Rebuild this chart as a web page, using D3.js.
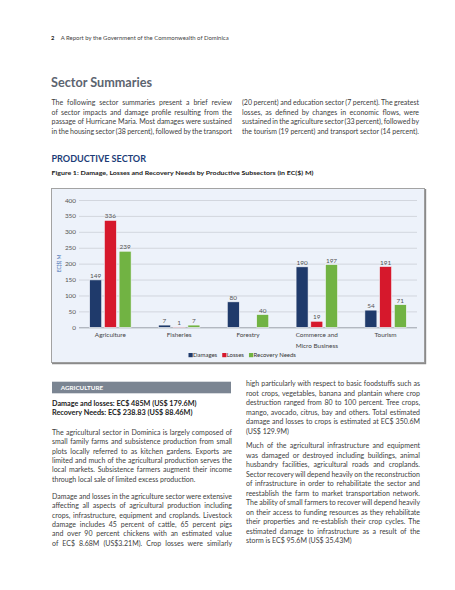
<!DOCTYPE html>
<html>
<head>
<meta charset="utf-8">
<script src="https://cdn.jsdelivr.net/npm/d3@7"></script>
<style>
body { margin: 0; background: #fff; }
svg { display: block; font-family: Lato, "Open Sans", sans-serif; }
</style>
</head>
<body>
<svg id="page" width="455" height="590"></svg>
<script>
// chart data (EC$ M)
var categories = ["Agriculture", "Fisheries", "Forestry", "Commerce and\nMicro Business", "Tourism"];
var series = ["Damages", "Losses", "Recovery Needs"];
var damages = [149, 7, 80, 190, 54];
var losses = [336, 1, null, 19, 191];
var recovery = [239, 7, 40, 197, 71];
var yTicks = [0, 50, 100, 150, 200, 250, 300, 350, 400];

// page text
var introLeft = [
  "The following sector summaries present a brief review",
  "of sector impacts and damage profile resulting from the",
  "passage of Hurricane Maria. Most damages were sustained",
  "in the housing sector (38 percent), followed by the transport"
];
var introRight = [
  "(20 percent) and education sector (7 percent). The greatest",
  "losses, as defined by changes in economic flows, were",
  "sustained in the agriculture sector (33 percent), followed by",
  "the tourism (19 percent) and transport sector (14 percent)."
];
var agriLeft1 = [
  "The agricultural sector in Dominica is largely composed of",
  "small family farms and subsistence production from small",
  "plots locally referred to as kitchen gardens. Exports are",
  "limited and much of the agricultural production serves the",
  "local markets. Subsistence farmers augment their income",
  "through local sale of limited excess production."
];
var agriLeft2 = [
  "Damage and losses in the agriculture sector were extensive",
  "affecting all aspects of agricultural production including",
  "crops, infrastructure, equipment and croplands. Livestock",
  "damage includes 45 percent of cattle, 65 percent pigs",
  "and over 90 percent chickens with an estimated value",
  "of EC$ 8.68M (US$3.21M). Crop losses were similarly"
];
var agriRight1 = [
  "high particularly with respect to basic foodstuffs such as",
  "root crops, vegetables, banana and plantain where crop",
  "destruction ranged from 80 to 100 percent. Tree crops,",
  "mango, avocado, citrus, bay and others. Total estimated",
  "damage and losses to crops is estimated at EC$ 350.6M",
  "(US$ 129.9M)"
];
var agriRight2 = [
  "Much of the agricultural infrastructure and equipment",
  "was damaged or destroyed including buildings, animal",
  "husbandry facilities, agricultural roads and croplands.",
  "Sector recovery will depend heavily on the reconstruction",
  "of infrastructure in order to rehabilitate the sector and",
  "reestablish the farm to market transportation network.",
  "The ability of small farmers to recover will depend heavily",
  "on their access to funding resources as they rehabilitate",
  "their properties and re-establish their crop cycles. The",
  "estimated damage to infrastructure as a result of the",
  "storm is EC$ 95.6M (US$ 35.43M)"
];

var svg = d3.select("#page");
var bodyColor = "#404040";
var bodySize = 7;

// single line of text, optionally squeezed/stretched to a width
function label(x, y, str, opts) {
  var t = svg.append("text")
    .attr("x", x).attr("y", y)
    .attr("font-size", opts.size)
    .attr("font-weight", opts.weight || "normal")
    .attr("fill", opts.color || bodyColor)
    .text(str);
  if (opts.fit) t.attr("textLength", opts.fit).attr("lengthAdjust", "spacingAndGlyphs");
  return t;
}

// justified paragraph, last line left as is
function paragraph(lines, x, y0, width, lh, lastFull) {
  lines.forEach(function(str, i) {
    var t = svg.append("text")
      .attr("x", x).attr("y", y0 + i * lh)
      .attr("font-size", bodySize)
      .attr("fill", bodyColor)
      .text(str);
    var last = i == lines.length - 1 && !lastFull;
    var w = t.node().getComputedTextLength();
    var spaces = (str.match(/ /g) || []).length;
    if (!last && spaces) {
      var ws = (width - w) / spaces;
      if (ws < -0.8) {
        t.attr("textLength", width).attr("lengthAdjust", "spacingAndGlyphs");
      } else {
        t.attr("word-spacing", ws);
      }
    }
    if (last && w > width) t.attr("textLength", width).attr("lengthAdjust", "spacingAndGlyphs");
  });
}

// header
label(51, 39.5, "2", {size: 5.8, weight: "bold", color: "#222"});
label(60.7, 39.5, "A Report by the Government of the Commonwealth of Dominica", {size: 5.8, color: "#444", fit: 168});

label(51, 86.5, "Sector Summaries", {size: 14, weight: "bold", color: "#5c6470", fit: 101});

paragraph(introLeft, 51.5, 105.2, 180.5, 9.6, true);
paragraph(introRight, 242, 105.2, 177, 9.6, false);

label(51.5, 161.5, "PRODUCTIVE SECTOR", {size: 8.8, weight: "bold", color: "#1d3d78", fit: 94.5});
label(51.5, 175.4, "Figure 1: Damage, Losses and Recovery Needs by Productive Subsectors (in EC($) M)", {size: 6, weight: "bold", color: "#1a1a1a", fit: 262});

// ---- chart ----
var x0 = d3.scaleBand().domain(categories).range([76, 420]);
var x1 = d3.scaleBand().domain(series).range([0, x0.bandwidth()])
  .paddingInner(0.184).paddingOuter(0.93);
var y = d3.scaleLinear().domain([0, 400]).range([327.3, 200]);
var color = d3.scaleOrdinal().domain(series).range(["#1f3a6b", "#d6182c", "#71b343"]);

// frame
svg.append("rect")
  .attr("x", 51.5).attr("y", 188.5).attr("width", 373).attr("height", 174)
  .attr("fill", "#edf2fa").attr("stroke", "#a3a3a3");
svg.append("path")
  .attr("d", "M425.5,189V363.5H52")
  .attr("fill", "none").attr("stroke", "#8a8a8a").attr("stroke-width", 1.4);

// grid + ticks
var yAxis = svg.append("g")
  .attr("transform", "translate(79,0)")
  .call(d3.axisLeft(y).tickValues(yTicks).tickSize(-338).tickPadding(3))
  .call(g => g.select(".domain").remove());
yAxis.selectAll("line")
  .attr("stroke", d => d == 0 ? "#9aa0a8" : "#cfd3da")
  .attr("stroke-width", d => d == 0 ? 1 : 0.9);
yAxis.selectAll("text")
  .attr("font-family", "Lato, sans-serif")
  .attr("font-size", 6.4)
  .attr("fill", "#555");

svg.append("text")
  .attr("transform", "translate(60.5,263.5) rotate(-90)")
  .attr("text-anchor", "middle")
  .attr("font-size", 5)
  .attr("fill", "#3d6eb3")
  .text("EC($) M");

// bars
var rows = categories.map(function(c, i) {
  return {cat: c, vals: [damages[i], losses[i], recovery[i]]};
});
var groups = svg.append("g").selectAll("g")
  .data(rows)
  .join("g")
  .attr("transform", d => "translate(" + x0(d.cat) + ",0)");

var cells = d => series.map((s, j) => ({s: s, v: d.vals[j]})).filter(e => e.v != null);

groups.selectAll("rect")
  .data(cells)
  .join("rect")
  .attr("x", d => x1(d.s))
  .attr("width", x1.bandwidth())
  .attr("y", d => y(d.v))
  .attr("height", d => y(0) - y(d.v))
  .attr("fill", d => color(d.s))
  .attr("stroke", "#f4f6fa")
  .attr("stroke-width", 0.6);

groups.selectAll("text.val")
  .data(cells)
  .join("text")
  .attr("class", "val")
  .attr("x", d => x1(d.s) + x1.bandwidth() / 2)
  .attr("y", d => y(d.v) - 2)
  .attr("text-anchor", "middle")
  .attr("font-size", 6.4)
  .attr("fill", "#555")
  .text(d => d.v);

// category labels
groups.append("text")
  .attr("text-anchor", "middle")
  .attr("font-size", 6.4)
  .attr("fill", "#444")
  .selectAll("tspan")
  .data(d => d.cat.split("\n"))
  .join("tspan")
  .attr("x", x0.bandwidth() / 2)
  .attr("y", (d, i) => 337.3 + i * 10.3)
  .text(d => d);

// legend
var lx = 188.5;
series.forEach(function(s) {
  svg.append("rect")
    .attr("x", lx).attr("y", 353).attr("width", 4.2).attr("height", 4.2)
    .attr("fill", color(s));
  var t = svg.append("text")
    .attr("x", lx + 4.5).attr("y", 357.4)
    .attr("font-size", 6)
    .attr("fill", "#333")
    .text(s);
  lx += 4.5 + t.node().getComputedTextLength() + 5;
});

// ---- agriculture section ----
svg.append("rect")
  .attr("x", 52).attr("y", 381.7).attr("width", 179).attr("height", 11.6)
  .attr("fill", "#7b8592");
label(60.7, 390.4, "AGRICULTURE", {size: 6.2, weight: "bold", color: "#fff", fit: 42.5});

label(52, 405.6, "Damage and losses: EC$ 485M (US$ 179.6M)", {size: 6.8, weight: "bold", color: "#222", fit: 144.5});
label(52, 414.8, "Recovery Needs: EC$ 238.83 (US$ 88.46M)", {size: 6.8, weight: "bold", color: "#222", fit: 140.5});

paragraph(agriLeft1, 52, 434.6, 180, 9.45, false);
paragraph(agriLeft2, 52, 498.6, 180, 9.45, true);
paragraph(agriRight1, 246, 386.4, 174, 9.5, false);
paragraph(agriRight2, 246, 448.4, 174, 9.5, false);
</script>
</body>
</html>
